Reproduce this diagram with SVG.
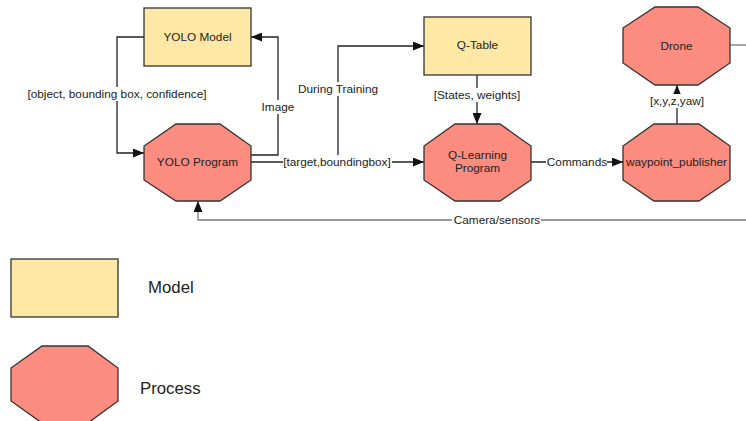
<svg xmlns="http://www.w3.org/2000/svg" width="746" height="421" viewBox="0 0 746 421">
<style>
.model{fill:#FFE8A6;stroke:#333;stroke-width:1.3}
.proc{fill:#FC8C7F;stroke:#333;stroke-width:1.3}
.t{font-family:"Liberation Sans",Arial,sans-serif;font-size:11.8px;fill:#222;text-anchor:middle;dominant-baseline:central}
.lg{font-family:"Liberation Sans",Arial,sans-serif;font-size:16.8px;fill:#222;dominant-baseline:central}
.c{fill:none;stroke:#222;stroke-width:1.3}
.cg{fill:none;stroke:#777;stroke-width:1.3}
.bg{fill:#fff}
</style>
<defs>
<marker id="ah" markerUnits="userSpaceOnUse" markerWidth="12" markerHeight="9" refX="11" refY="4.5" orient="auto">
<path d="M0,0 L11,4.5 L0,9 z" fill="#111"/>
</marker>
</defs>
<rect width="746" height="421" fill="#fff"/>
<g id="connectors">
<path class="c" d="M144,37 H117 V153 H144" marker-end="url(#ah)"/>
<path class="c" d="M251,155 H278 V37 H251" marker-end="url(#ah)"/>
<path class="c" d="M251,162 H424" marker-end="url(#ah)"/>
<path class="c" d="M338,162 V46 H424" marker-end="url(#ah)"/>
<path class="c" d="M477,75 V124" marker-end="url(#ah)"/>
<path class="c" d="M531,162 H623" marker-end="url(#ah)"/>
<path class="c" d="M677,124 V85" marker-end="url(#ah)"/>
<path class="cg" d="M730,45 H746"/>
<path class="cg" d="M746,220 H198 V201" marker-end="url(#ah)"/>
<rect class="bg" x="26" y="87" width="182" height="14"/>
<text class="t" x="117" y="94">[object, bounding box, confidence]</text>
<rect class="bg" x="261" y="100" width="34" height="14"/>
<text class="t" x="278" y="107">Image</text>
<rect class="bg" x="296" y="82" width="84" height="14"/>
<text class="t" x="338" y="89">During Training</text>
<rect class="bg" x="283" y="155" width="109" height="14"/>
<text class="t" x="337" y="162">[target,boundingbox]</text>
<rect class="bg" x="432" y="88" width="90" height="14"/>
<text class="t" x="477" y="95">[States, weights]</text>
<rect class="bg" x="546" y="155" width="61" height="14"/>
<text class="t" x="577" y="162">Commands</text>
<rect class="bg" x="648" y="94" width="57" height="14"/>
<text class="t" x="677" y="101">[x,y,z,yaw]</text>
<rect class="bg" x="452" y="213" width="89" height="14"/>
<text class="t" x="497" y="220">Camera/sensors</text>
</g>
<g id="yolo-model">
<rect class="model" x="144" y="8" width="107" height="58"/>
<text class="t" x="197.5" y="37">YOLO Model</text>
</g>
<g id="yolo-program">
<polygon class="proc" points="176,124 220,124 251,146 251,180 220,201 176,201 144,180 144,146"/>
<text class="t" x="197.5" y="162">YOLO Program</text>
</g>
<g id="q-table">
<rect class="model" x="424" y="17" width="107" height="58"/>
<text class="t" x="477.5" y="45">Q-Table</text>
</g>
<g id="q-learning">
<polygon class="proc" points="455,124 500,124 531,146 531,180 500,201 455,201 424,180 424,146"/>
<text class="t" x="477.5" y="155">Q-Learning</text>
<text class="t" x="477.5" y="168">Program</text>
</g>
<g id="drone">
<polygon class="proc" points="655,7 698,7 730,28 730,63 698,85 655,85 623,63 623,28"/>
<text class="t" x="676.5" y="46">Drone</text>
</g>
<g id="waypoint-publisher">
<polygon class="proc" points="654,124 699,124 730,146 730,180 699,201 654,201 623,180 623,146"/>
<text class="t" x="676.5" y="162">waypoint_publisher</text>
</g>
<g id="legend-model">
<rect class="model" x="11" y="259" width="107" height="58"/>
<text class="lg" x="148" y="287">Model</text>
</g>
<g id="legend-process">
<polygon class="proc" points="42,346 88,346 118,368 118,401 88,423 42,423 11,401 11,368"/>
<text class="lg" x="140" y="388">Process</text>
</g>
</svg>
